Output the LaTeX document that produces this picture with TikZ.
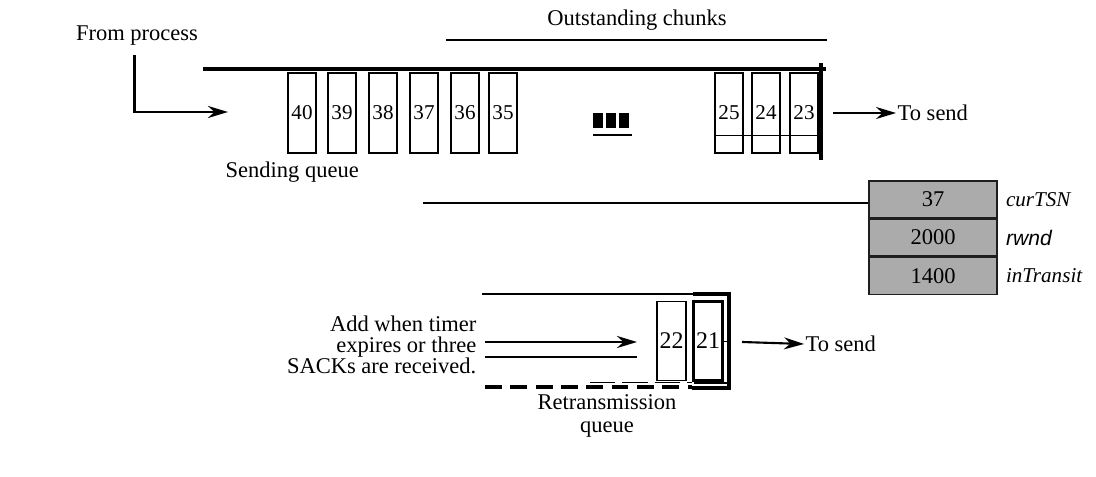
\documentclass[tikz,border=0pt]{standalone}
\usepackage{fontspec}
\setmainfont{Liberation Serif}
\newfontfamily\varsans{Liberation Sans}
\usetikzlibrary{arrows.meta, positioning, calc}
\definecolor{varFill}{HTML}{ABABAB}
\definecolor{varStroke}{HTML}{1E1E1E}
\tikzset{
  lbl/.style={font=\fontsize{16}{16}\selectfont, inner sep=1pt},
  chunk/.style={
    rectangle, draw, line width=0.9pt,
    minimum width=0.7cm, minimum height=2cm,
    inner sep=0pt, font=\fontsize{15}{15}\selectfont
  },
  rchunk/.style={chunk, minimum width=0.72cm, minimum height=1.97cm,
    font=\fontsize{17}{17}\selectfont},
  varbox/.style={
    rectangle, draw=varStroke, fill=varFill, line width=1pt,
    minimum width=3.2cm, minimum height=0.92cm,
    inner sep=0pt, font=\fontsize{16}{16}\selectfont
  },
  varname/.style={right=0.2cm of #1, inner sep=0pt},
  wall/.style={line width=2.2pt},
  feed/.style={-{Stealth[length=5mm,width=3mm]}, line width=2pt},
}

\begin{document}
\begin{tikzpicture}[x=0.025cm, y=-0.025cm]
  \useasboundingbox (0,0) rectangle (1096,477);

  % sending queue
  \node[lbl] (fromproc) at (137,36) {From process};
  \coordinate (sqin) at (228,112);
  \draw[feed] ([xshift=-0.07cm,yshift=-0.2cm]fromproc.south) |- (sqin);
  \draw[wall] (203,69) -- (826,69);
  \draw[line width=3pt] (821,63) -- (821,160);
  \foreach \n/\x in {40/302, 39/342, 38/383, 37/424, 36/465, 35/503, 25/729, 24/766, 23/804}
    \node[chunk] (c\n) at (\x,113) {\n};
  \draw[line width=0.6pt] ([yshift=-0.55cm]c25.west) -- ([yshift=-0.55cm]c23.east);
  % chunks left out
  \foreach \x in {598,611,624}
    \fill (\x-5,113) rectangle (\x+5,128);
  \draw[line width=0.8pt] (593,135) -- (632,135);

  \node[lbl] (outst) at (637,20) {Outstanding chunks};
  \draw[line width=1pt] (446,40) -- (827,40);
  \node[lbl, anchor=west] (sqname) at (224,172) {Sending queue};
  \coordinate (sqout) at (833,113);
  \node[lbl, anchor=west] (send1) at (896,113) {To send};
  \draw[feed, line width=1.5pt] (sqout) -- (send1.west);

  % control variables
  \node[varbox] (tsn) at (933,199.4) {37};
  \node[varbox, below=0pt of tsn] (rwnd) {2000};
  \node[varbox, below=0pt of rwnd] (transit) {1400};
  \node[varname=tsn, font=\fontsize{15}{15}\selectfont\itshape] (tsnname) {curTSN};
  \node[varname=rwnd, font=\fontsize{15}{15}\varsans\itshape] (rwndname) {rwnd};
  \node[varname=transit, font=\fontsize{15}{15}\selectfont\itshape] (transitname) {inTransit};
  \coordinate (tsnptr) at (423,203);
  \draw[line width=1.3pt] (tsnptr) -- (tsnptr -| tsn.west);

  % retransmission queue
  \draw[line width=1pt] (482,294) -- (728,294);
  \draw[wall] (693,294) -- (729,294) -- (729,388) -- (692,388);
  \draw[wall, dash pattern=on 12pt off 6pt] (485,387) -- (692,387);
  \draw[line width=1.4pt, dash pattern=on 18pt off 5pt] (590,382.5) -- (692,382.5);
  \draw[line width=1.6pt] (694,383) -- (727,383);
  \node[rchunk] (r22) at (671.5,341) {22};
  \node[rchunk, line width=1.8pt] (r21) at (708,341) {21};
  \coordinate (rqwall) at (729,341);
  \draw[line width=0.6pt] (r21.east) -- (rqwall);
  \coordinate (rqout) at (742,342);
  \node[lbl, anchor=west] (send2) at (804,344) {To send};
  \draw[feed, line width=1.5pt] (rqout) -- (send2.west);

  \node[lbl, align=right, anchor=east, font=\fontsize{16}{14.8}\selectfont]
    (addnote) at (478,345) {Add when timer\\expires or three\\SACKs are received.};
  \coordinate (rqin) at (637,342);
  \draw[feed] ([xshift=0.175cm]addnote.east |- rqin) -- (rqin);
  \draw[line width=0.9pt] (485,357) -- (637,357);
  \node[lbl, align=center] (rqname) at (607,416) {Retransmission\\queue};
\end{tikzpicture}
\end{document}
